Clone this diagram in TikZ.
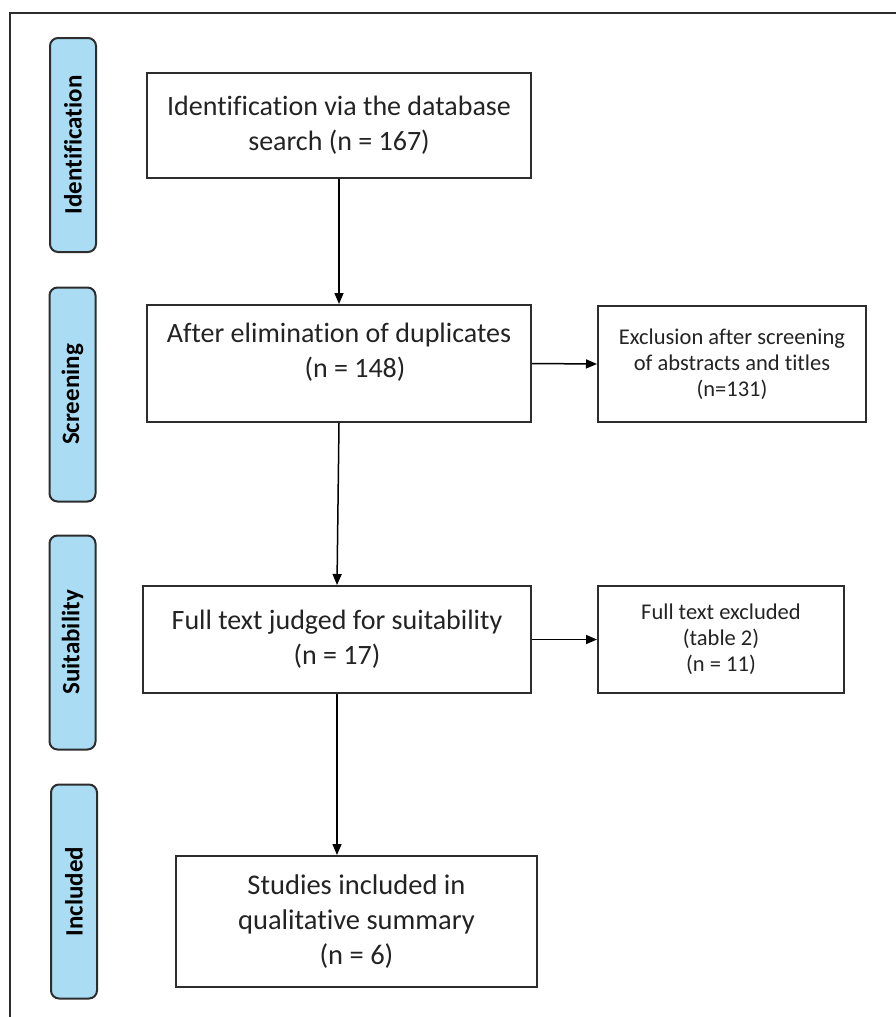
\documentclass[tikz,border=0pt]{standalone}
\usepackage{fontspec}
\setmainfont{Carlito}[Ligatures=NoCommon]
\usetikzlibrary{arrows.meta}

\definecolor{stagefill}{RGB}{170,221,243}
\definecolor{edgegray}{RGB}{45,45,45}
\definecolor{inkgray}{RGB}{35,35,35}

\tikzset{
  stage/.style={draw=edgegray, line width=2pt, fill=stagefill, rounded corners=8pt,
    rotate=90, minimum width=214pt, minimum height=46pt, inner sep=0pt,
    text=black, font=\fontsize{25}{30}\selectfont\bfseries},
  flowbox/.style={draw=edgegray, line width=2pt, inner sep=0pt, align=center,
    text=inkgray, font=\fontsize{28}{35}\selectfont},
  sidebox/.style={draw=edgegray, line width=2pt, inner sep=0pt, align=center,
    text=inkgray, font=\fontsize{22.5}{26}\selectfont},
  boxtext/.style={align=center, inner sep=0pt, text=inkgray,
    font=\fontsize{28}{35}\selectfont},
  flow/.style={draw=black, line width=1.5pt, -{Triangle[length=11pt,width=9pt]}}
}

\begin{document}
\begin{tikzpicture}[x=1pt, y=-1pt]
  \useasboundingbox (0,0) rectangle (895,1017);

  % outer frame (only its top and left edges fall on the page)
  \draw[edgegray, line width=1.5pt] (10,1030) -- (10,13) -- (910,13);

  % stage labels on the left
  \node[stage] (sid)   at (73,145)    {Identification};
  \node[stage] (sscr)  at (72.5,394.5) {Screening};
  \node[stage] (ssuit) at (72.5,642.5) {Suitability};
  \node[stage] (sinc)  at (74,891.5)  {Included};

  % main column
  \node[flowbox, minimum width=384pt, minimum height=105pt] (b1) at (339,125.5)
    {Identification via the database\\search (n = 167)};
  \node[flowbox, minimum width=384pt, minimum height=117pt] (b2) at (339,363.5) {};
  \node[boxtext] (b2t) at ([yshift=11pt]b2.center)
    {After elimination of duplicates\\\hspace*{32pt}(n = 148)};
  \node[flowbox, minimum width=388pt, minimum height=107pt] (b3) at (337,639.5)
    {Full text judged for suitability\\(n = 17)};
  \node[flowbox, minimum width=361pt, minimum height=131pt,
        font=\fontsize{28.5}{35}\selectfont] (b4) at (356.5,921.5)
    {Studies included in\\qualitative summary\\(n = 6)};

  % exclusion boxes
  \node[sidebox, minimum width=268pt, minimum height=116pt] (ex1) at (732,364)
    {Exclusion after screening\\of abstracts and titles\\(n=131)};
  \node[sidebox, minimum width=246pt, minimum height=107pt] (ex2) at (721,639.5)
    {Full text excluded\\(table 2)\\(n = 11)};

  % connectors
  \draw[flow] (b1.south) -- (b2.north);
  \draw[flow] (b2.south) -- (b3.north);
  \draw[flow] (b3.south) -- (b3.south |- b4.north);
  \draw[flow] (b2.east) -- (ex1.west);
  \draw[flow] (b3.east) -- (ex2.west);
\end{tikzpicture}
\end{document}
